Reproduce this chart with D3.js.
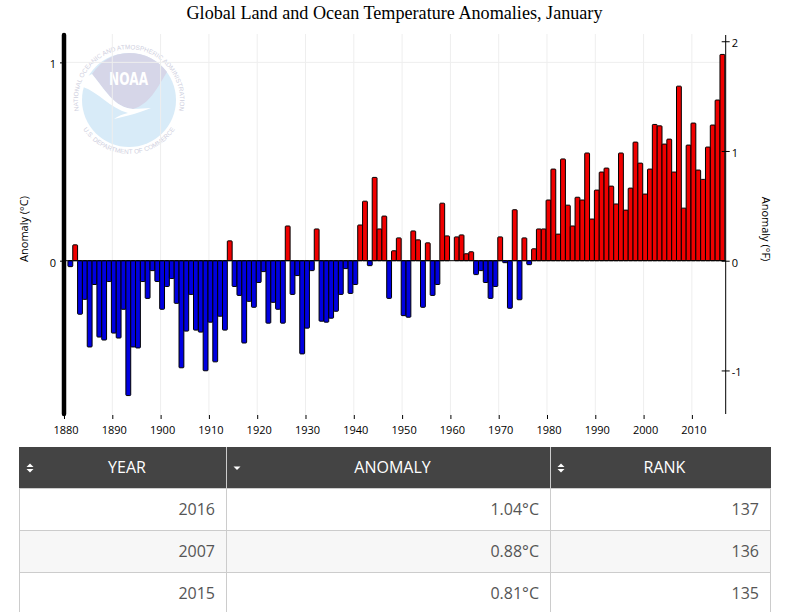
<!DOCTYPE html>
<html><head><meta charset="utf-8">
<script src="https://cdn.jsdelivr.net/npm/d3@7/dist/d3.min.js"></script>
<style>
html,body{margin:0;padding:0;background:#fff;width:791px;height:612px;overflow:hidden;}
#chart{position:absolute;left:0;top:0;}
#tbl{position:absolute;left:19px;top:447px;width:751px;border-collapse:collapse;table-layout:fixed;font-family:"Open Sans",sans-serif;font-size:16px;}
#tbl th{background:#444;color:#fff;font-weight:400;height:41px;padding:0 0 0 8px;border-right:1px solid #ccc;border-left:1px solid #444;border-bottom:1px solid #ccc;position:relative;text-align:center;box-sizing:border-box;}
#tbl th:first-child{border-left:1px solid #444;}
#tbl th:last-child{border-right:1px solid #444;}
#tbl td{color:#555;text-align:right;height:42px;padding:0 11px 0 0;border:1px solid #ccc;border-top:0;box-sizing:border-box;}
#tbl tr:nth-child(even) td{background:#f7f7f7;}
#tbl th svg{position:absolute;left:5px;top:15px;}
.axis text{font-family:"Open Sans",sans-serif;font-size:11px;fill:#000;}
</style></head><body>
<svg id="chart" width="791" height="447"></svg>
<table id="tbl"><colgroup><col style="width:207px"><col style="width:324px"><col style="width:220px"></colgroup><thead><tr></tr></thead><tbody></tbody></table>
<script>
const firstYear = 1880;
const anomalies = [
 0.00,-0.03,0.08,-0.27,-0.195,-0.435,-0.12,-0.385,-0.40,-0.105,
 -0.365,-0.39,-0.245,-0.68,-0.435,-0.44,-0.105,-0.19,-0.05,-0.105,
 -0.245,-0.13,-0.09,-0.215,-0.54,-0.355,-0.17,-0.35,-0.36,-0.555,
 -0.31,-0.51,-0.28,-0.35,0.10,-0.13,-0.175,-0.415,-0.205,-0.235,
 -0.11,-0.055,-0.315,-0.21,-0.245,-0.315,0.175,-0.17,-0.075,-0.47,
 -0.34,-0.05,0.16,-0.305,-0.31,-0.29,-0.255,-0.17,-0.04,-0.165,
 -0.12,0.18,0.30,-0.025,0.42,0.16,0.225,-0.19,0.05,0.115,
 -0.277,-0.285,0.15,0.105,-0.235,0.09,-0.175,-0.12,0.29,0.125,
 0.00,0.12,0.13,0.035,0.045,-0.07,-0.05,-0.11,-0.19,-0.13,
 0.12,-0.01,-0.24,0.257,-0.197,0.115,-0.02,0.06,0.16,0.16,
 0.306,0.462,0.134,0.513,0.28,0.175,0.32,0.306,0.543,0.21,
 0.356,0.447,0.467,0.376,0.286,0.543,0.255,0.366,0.598,0.492,
 0.336,0.462,0.687,0.68,0.588,0.613,0.447,0.88,0.265,0.583,
 0.694,0.457,0.41,0.573,0.684,0.81,1.04];
const xTickYears = [1880,1890,1900,1910,1920,1930,1940,1950,1960,1970,1980,1990,2000,2010];
const leftTicks = [0,1];
const rightTicks = [-1,0,1,2];
const titleText = "Global Land and Ocean Temperature Anomalies, January";
const leftLabel = "Anomaly (°C)";
const rightLabel = "Anomaly (°F)";
const tableHeaders = ["YEAR","ANOMALY","RANK"];
const sortStates = ["both","desc","both"];
const tableYears = [2016,2007,2015];
const tableAnoms = ["1.04°C","0.88°C","0.81°C"];
const tableRanks = [137,136,135];

const svg = d3.select("#chart");
const top_=34, bottom=415, left=64, right=725.7;
const x = d3.scaleLinear().domain([1880,2017]).range([left,right]);
const yC = d3.scaleLinear().domain([-0.778,1.143]).range([bottom,top_]);
const yF = d3.scaleLinear().domain([-1.406,2.066]).range([bottom,top_]);
const data = anomalies.map((v,i)=>({year:firstYear+i,v}));

svg.append("text").attr("x",394.5).attr("y",19).attr("text-anchor","middle")
  .attr("font-family","'Liberation Serif',serif").attr("font-size",18.15).attr("fill","#000").text(titleText);

// logo
const logo = svg.append("g").attr("class","logo");
logo.append("circle").attr("cx",129).attr("cy",100).attr("r",47).attr("fill","#d8ebf8");
logo.append("path").attr("fill","#d6d6e8").attr("d","M92,74 C100,62 113,53 129,53 C145,53 158,60 167,72 C157,88 150,104 133,109 C115,108 105,90 92,74Z");
logo.append("path").attr("fill","#fff").attr("d","M80,84 L84,78 L92,74 C105,90 115,108 133,109 C140,109 146,108 151,108 C141,112 128,116 114,119 C118,116 123,114 128,113 C110,108 98,92 83,87Z");
logo.append("text").attr("x",128.6).attr("y",85).attr("text-anchor","middle").attr("font-family","'DejaVu Sans',sans-serif").attr("font-weight","bold").attr("font-size",17).attr("fill","#fff").attr("textLength",39).attr("lengthAdjust","spacingAndGlyphs").text("NOAA");
const defs = svg.append("defs");
defs.append("path").attr("id","arcTop").attr("d","M81.2,118 A51,51 0 1 1 176.8,118");
defs.append("path").attr("id","arcBot").attr("d","M83,129 A55,55 0 0 0 175,129");
logo.append("text").attr("font-family","'Liberation Sans',sans-serif").attr("font-size",6.4).attr("fill","#cfd0e0")
  .append("textPath").attr("href","#arcTop").attr("startOffset","50%").attr("text-anchor","middle").text("NATIONAL OCEANIC AND ATMOSPHERIC ADMINISTRATION");
logo.append("text").attr("font-family","'Liberation Sans',sans-serif").attr("font-size",6.4).attr("fill","#cfd0e0")
  .append("textPath").attr("href","#arcBot").attr("startOffset","50%").attr("text-anchor","middle").text("U.S. DEPARTMENT OF COMMERCE");

// grid
svg.append("g").selectAll("line").data(xTickYears.slice(1)).join("line")
  .attr("x1",d=>x(d)).attr("x2",d=>x(d)).attr("y1",top_).attr("y2",bottom)
  .attr("stroke","#eeeeee").attr("stroke-width",1);
svg.append("g").selectAll("line").data(leftTicks.filter(d=>d!==0)).join("line")
  .attr("x1",left).attr("x2",right).attr("y1",d=>yC(d)).attr("y2",d=>yC(d))
  .attr("stroke","#eeeeee").attr("stroke-width",1);

// bars
const barW = x(1881)-x(1880), barOff = -0.9;
svg.append("g").selectAll("rect").data(data).join("rect")
  .attr("x",d=>x(d.year)+barOff)
  .attr("width",barW)
  .attr("y",d=>Math.min(yC(d.v),yC(0)))
  .attr("height",d=>Math.abs(yC(d.v)-yC(0)))
  .attr("fill",d=>d.v>=0?"#f00000":"#0000e0")
  .attr("stroke","#000").attr("stroke-width",1).attr("rx",0.8);
svg.append("line").attr("x1",left).attr("x2",right).attr("y1",yC(0)).attr("y2",yC(0)).attr("stroke","#000").attr("stroke-width",1);

// axes
const axB = svg.append("g").attr("class","axis").attr("transform",`translate(0,${bottom})`)
  .call(d3.axisBottom(x).tickValues(xTickYears).tickFormat(d3.format("d")).tickSize(4).tickPadding(7));
axB.select(".domain").remove();
axB.selectAll(".tick text").attr("dx",1.5);
const axL = svg.append("g").attr("class","axis").attr("transform",`translate(${left},0)`)
  .call(d3.axisLeft(yC).tickValues(leftTicks).tickFormat(d3.format("d")).tickSize(4).tickPadding(4));
axL.select(".domain").remove();
axL.selectAll(".tick text").attr("dy","0.5em");
const axR = svg.append("g").attr("class","axis").attr("transform",`translate(${right},0)`)
  .call(d3.axisRight(yF).tickValues(rightTicks).tickFormat(d=>d3.format("d")(d).replace("−","-")).tickSize(4).tickPadding(2));
axR.select(".domain").remove();
axR.selectAll(".tick line").attr("x1",-4).attr("x2",4);
axR.selectAll(".tick text").attr("dy","0.5em");
svg.append("line").attr("x1",left).attr("x2",left).attr("y1",top_+1).attr("y2",bottom-1)
  .attr("stroke","#000").attr("stroke-width",4.5).attr("stroke-linecap","round");
svg.append("line").attr("x1",right).attr("x2",right).attr("y1",top_+1).attr("y2",bottom-1).attr("stroke","#000").attr("stroke-width",1);

svg.append("text").attr("transform","translate(28,229) rotate(-90)").attr("text-anchor","middle")
  .attr("font-family","'Open Sans',sans-serif").attr("font-size",11).text(leftLabel);
svg.append("text").attr("transform","translate(762,229) rotate(90)").attr("text-anchor","middle")
  .attr("font-family","'Open Sans',sans-serif").attr("font-size",11).text(rightLabel);

// table
const th = d3.select("#tbl thead tr").selectAll("th").data(tableHeaders).join("th").text(d=>d);
th.each(function(d,i){
  const s = d3.select(this).append("svg").attr("width",10).attr("height",12);
  if(sortStates[i]==="both"){
    s.append("path").attr("d","M1.5,5 L5,1.5 L8.5,5Z").attr("fill","#fff");
    s.append("path").attr("d","M1.5,7 L5,10.5 L8.5,7Z").attr("fill","#fff");
  } else {
    s.append("path").attr("d","M1.5,4.5 L5,8 L8.5,4.5Z").attr("fill","#fff");
  }
});
const rows = tableYears.map((y,i)=>[y,tableAnoms[i],tableRanks[i]]);
d3.select("#tbl tbody").selectAll("tr").data(rows).join("tr")
  .selectAll("td").data(d=>d).join("td").text(d=>d);
</script>
</body></html>
